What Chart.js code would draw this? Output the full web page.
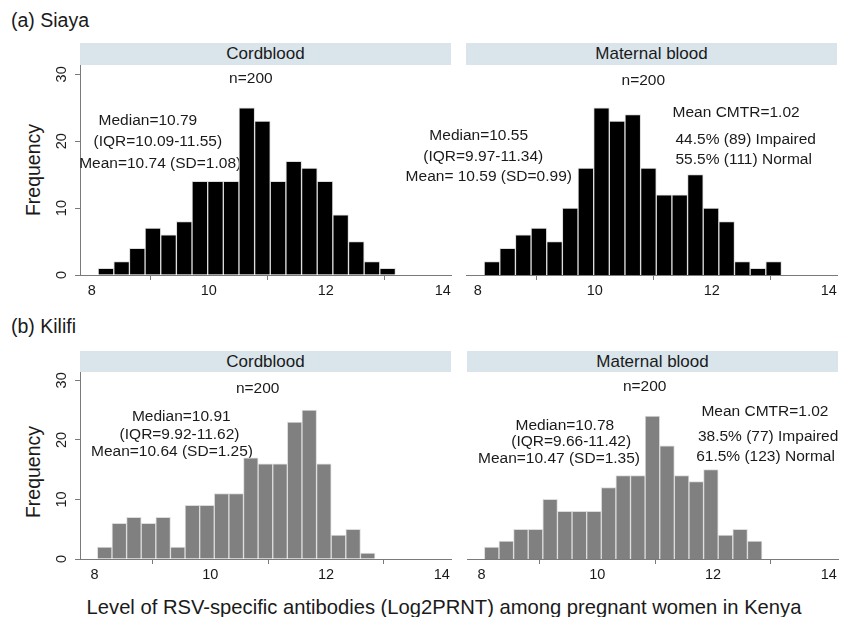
<!DOCTYPE html>
<html>
<head>
<meta charset="utf-8">
<script src="https://cdn.jsdelivr.net/npm/chart.js@4/dist/chart.umd.min.js"></script>
<style>
  body { margin: 0; background: #fff; }
  #wrap { position: relative; width: 841px; height: 617px; background: #fff; font-family: "Liberation Sans", Arial, sans-serif; color: #1a1a1a; overflow: hidden; }
  #wrap canvas { position: absolute; }
  .rowtitle { position: absolute; font-size: 19.5px; line-height: 24px; }
  .strip { position: absolute; background: #d9e5eb; font-size: 17px; text-align: center; }
  .ylab { position: absolute; width: 120px; height: 24px; line-height: 24px; text-align: center; font-size: 19.5px; transform: rotate(-90deg); }
  .xlab { position: absolute; left: 0; width: 888px; top: 595px; text-align: center; font-size: 20.2px; line-height: 24px; }
</style>
</head>
<body>
<div id="wrap">
  <div class="rowtitle" style="left:11px;top:8px">(a) Siaya</div>
  <div class="strip" style="left:80px;top:43px;width:371px;height:22px;line-height:22px">Cordblood</div>
  <div class="strip" style="left:466px;top:43px;width:371px;height:22px;line-height:22px">Maternal blood</div>
  <div class="ylab" style="left:-27px;top:158px">Frequency</div>

  <div class="rowtitle" style="left:11px;top:314px">(b) Kilifi</div>
  <div class="strip" style="left:80px;top:351px;width:371px;height:21px;line-height:21px">Cordblood</div>
  <div class="strip" style="left:467px;top:351px;width:371px;height:21px;line-height:21px">Maternal blood</div>
  <div class="ylab" style="left:-27px;top:460px">Frequency</div>

  <canvas id="c1" width="420" height="250" style="left:40px;top:60px"></canvas>
  <canvas id="c2" width="450" height="250" style="left:395px;top:60px"></canvas>
  <canvas id="c3" width="420" height="227" style="left:40px;top:367px"></canvas>
  <canvas id="c4" width="450" height="227" style="left:395px;top:367px"></canvas>

  <div class="xlab">Level of RSV-specific antibodies (Log2PRNT) among pregnant women in Kenya</div>
</div>
<script>
// tick values
const xTicks = [8, 10, 12, 14];
const yTicks = [0, 10, 20, 30];

// Siaya histogram bins
const siayaBinStart = 8.11;
const siayaBinWidth = 0.2674;
const siayaCord = [1, 2, 4, 7, 6, 8, 14, 14, 14, 25, 23, 14, 17, 16, 14, 9, 5, 2, 1];
const siayaMaternal = [2, 4, 6, 7, 5, 10, 16, 25, 23, 24, 16, 12, 12, 15, 10, 8, 2, 1, 2];

// Kilifi histogram bins
const kilifiBinStart = 8.05;
const kilifiBinWidth = 0.2525;
const kilifiCord = [2, 6, 7, 6, 7, 2, 9, 9, 11, 11, 17, 16, 16, 23, 25, 16, 4, 5, 1];
const kilifiMaternal = [2, 3, 5, 5, 10, 8, 8, 8, 12, 14, 14, 24, 19, 14, 13, 15, 4, 5, 3];

// text notes: [text, x value, frequency, align]
const siayaCordNotes = [
  ['n=200', 10.72, 29.4, 'center'],
  ['Median=10.79', 8.96, 23.0, 'center'],
  ['(IQR=10.09-11.55)', 9.13, 20.0, 'center'],
  ['Mean=10.74 (SD=1.08)', 9.17, 16.7, 'center']
];
const siayaMaternalNotes = [
  ['n=200', 10.83, 29.0, 'center'],
  ['Median=10.55', 8.86, 20.8, 'right'],
  ['(IQR=9.97-11.34)', 9.12, 17.7, 'right'],
  ['Mean= 10.59 (SD=0.99)', 9.61, 14.7, 'right'],
  ['Mean CMTR=1.02', 11.33, 24.3, 'left'],
  ['44.5% (89) Impaired', 11.38, 20.3, 'left'],
  ['55.5% (111) Normal', 11.38, 17.2, 'left']
];
const kilifiCordNotes = [
  ['n=200', 10.82, 28.6, 'center'],
  ['Median=10.91', 9.50, 23.85, 'center'],
  ['(IQR=9.92-11.62)', 9.47, 20.95, 'center'],
  ['Mean=10.64 (SD=1.25)', 9.34, 17.98, 'center']
];
const kilifiMaternalNotes = [
  ['n=200', 10.82, 28.9, 'center'],
  ['Median=10.78', 9.44, 22.3, 'center'],
  ['(IQR=9.66-11.42)', 9.55, 19.66, 'center'],
  ['Mean=10.47 (SD=1.35)', 9.34, 16.87, 'center'],
  ['Mean CMTR=1.02', 11.80, 24.8, 'left'],
  ['38.5% (77) Impaired', 11.74, 20.5, 'left'],
  ['61.5% (123) Normal', 11.71, 17.15, 'left']
];

const FONT = '"Liberation Sans", Arial, sans-serif';
const AXIS = '#7a7a7a';

// draws the stata-style text notes and the rotated y tick labels
const notesPlugin = {
    id: 'notes',
    beforeDatasetsDraw(chart, args, opts) {
        const { ctx, scales: { x, y } } = chart;
        ctx.save();
        ctx.font = '15.5px ' + FONT;
        ctx.fillStyle = '#1a1a1a';
        ctx.textBaseline = 'middle';
        (opts.items || []).forEach(([t, xv, yv, align]) => {
            ctx.textAlign = align;
            ctx.fillText(t, x.getPixelForValue(xv), y.getPixelForValue(yv));
        });
        ctx.restore();
    },
    afterDraw(chart, args, opts) {
        if (!opts.yLabels) return;
        const { ctx, chartArea, scales: { y } } = chart;
        ctx.save();
        ctx.font = '14.5px ' + FONT;
        ctx.fillStyle = '#1a1a1a';
        ctx.textAlign = 'center';
        ctx.textBaseline = 'middle';
        yTicks.forEach(v => {
            ctx.save();
            ctx.translate(chartArea.left - 18, y.getPixelForValue(v));
            ctx.rotate(-Math.PI / 2);
            ctx.fillText(String(v), 0, 0);
            ctx.restore();
        });
        ctx.restore();
    }
};

function makePanel(id, counts, start, width, color, xMin, xMax, showY, pad, notes) {
    const points = counts.map((c, i) => ({ x: start + width * (i + 0.5), y: c }));
    new Chart(document.getElementById(id), {
        type: 'bar',
        data: {
            datasets: [{ data: points, backgroundColor: color, borderColor: '#dcdcdc', borderWidth: 1, barPercentage: 1, categoryPercentage: 1 }]
        },
        options: {
            responsive: false, maintainAspectRatio: false, animation: false,
            layout: { padding: pad },
            plugins: { legend: { display: false }, tooltip: { enabled: false }, notes: { items: notes, yLabels: showY } },
            scales: {
                x: {
                    type: 'linear', min: xMin, max: xMax, offset: false,
                    afterBuildTicks: s => { s.ticks = xTicks.map(v => ({ value: v })); },
                    afterFit: s => { s.height = 35; },
                    ticks: { color: '#1a1a1a', font: { size: 14.5, family: FONT }, padding: 2, maxRotation: 0, autoSkip: false },
                    grid: { drawOnChartArea: false, tickLength: 5, color: AXIS },
                    border: { color: AXIS }
                },
                y: {
                    display: showY, min: 0, max: 31.4,
                    afterBuildTicks: s => { s.ticks = yTicks.map(v => ({ value: v })); },
                    afterFit: s => { s.width = showY ? 40 : 0; },
                    ticks: { display: false },
                    grid: { drawOnChartArea: false, tickLength: 5, color: AXIS },
                    border: { color: AXIS }
                }
            }
        },
        plugins: [notesPlugin]
    });
}

makePanel('c1', siayaCord, siayaBinStart, siayaBinWidth, '#000000', 7.8, 14.14, true,
    { left: 0, right: 9, top: 5, bottom: 0 }, siayaCordNotes);
makePanel('c2', siayaMaternal, siayaBinStart, siayaBinWidth, '#000000', 7.8, 14.14, false,
    { left: 71, right: 8, top: 5, bottom: 0 }, siayaMaternalNotes);
makePanel('c3', kilifiCord, kilifiBinStart, kilifiBinWidth, '#808080', 7.75, 14.16, true,
    { left: 0, right: 9, top: 5, bottom: 0 }, kilifiCordNotes);
makePanel('c4', kilifiMaternal, kilifiBinStart, kilifiBinWidth, '#808080', 7.75, 14.16, false,
    { left: 72, right: 7, top: 5, bottom: 0 }, kilifiMaternalNotes);
</script>
</body>
</html>
